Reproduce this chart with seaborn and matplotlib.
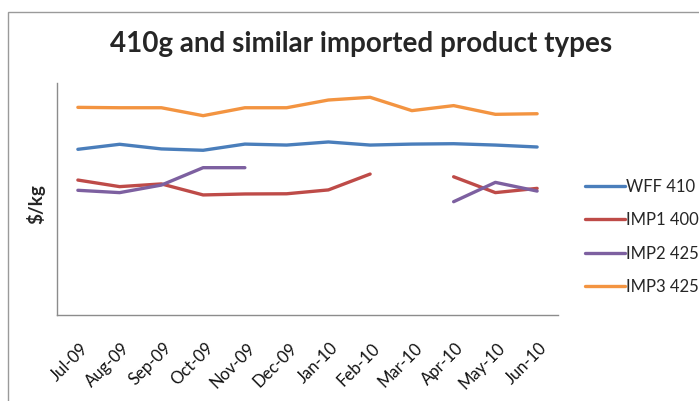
import numpy as np
import pandas as pd
import matplotlib
matplotlib.use("Agg")
import matplotlib.pyplot as plt
import matplotlib.transforms as mtransforms
import seaborn as sns

# Monthly price per kg for each product
months = ["Jul-09", "Aug-09", "Sep-09", "Oct-09", "Nov-09", "Dec-09",
          "Jan-10", "Feb-10", "Mar-10", "Apr-10", "May-10", "Jun-10"]
wff_410 = [8.57, 8.83, 8.59, 8.52, 8.84, 8.79, 8.95, 8.79, 8.84, 8.86, 8.79, 8.69]
imp1_400 = [6.98, 6.64, 6.78, 6.21, 6.26, 6.27, 6.47, 7.29, np.nan, 7.15, 6.33, 6.55]
imp2_425 = [6.45, 6.33, 6.72, 7.62, 7.62, np.nan, np.nan, np.nan, np.nan, 5.86, 6.86, 6.41]
imp3_425 = [10.74, 10.72, 10.72, 10.31, 10.72, 10.72, 11.12, 11.26, 10.57, 10.83, 10.38, 10.41]

series_names = ["WFF 410", "IMP1 400", "IMP2 425", "IMP3 425"]
series_values = [wff_410, imp1_400, imp2_425, imp3_425]
colors = ["#4A7EBB", "#BE4B48", "#7D60A0", "#F39441"]

# Long-form table; missing months split a series into separate segments
rows = []
for name, vals in zip(series_names, series_values):
    seg = 0
    prev_missing = False
    for i, v in enumerate(vals):
        if np.isnan(v):
            prev_missing = True
            continue
        if prev_missing:
            seg += 1
            prev_missing = False
        rows.append({"pos": i, "price": v, "series": name, "segment": f"{name}-{seg}"})
df = pd.DataFrame(rows)

sns.set_theme(style="white")
plt.rcParams["font.family"] = ["Lato", "DejaVu Sans"]

fig = plt.figure(figsize=(6.99, 4.01), dpi=100)
ax = fig.add_axes([57 / 699, 1 - 315 / 401, (558 - 57) / 699, (315 - 83) / 401])

sns.lineplot(data=df, x="pos", y="price", hue="series", units="segment",
             estimator=None, hue_order=series_names,
             palette=dict(zip(series_names, colors)), linewidth=2.4,
             ax=ax, legend=True)

ax.set_xlim(-0.5, len(months) - 0.5)
ax.set_ylim(0, 12)
ax.set_xticks(range(len(months)))
ax.set_xticklabels(months, rotation=45, ha="right", rotation_mode="anchor",
                   fontsize=12, color="#111111")
ax.tick_params(axis="x", length=0, pad=18)
shift = mtransforms.ScaledTranslation(2 / 100, 0, fig.dpi_scale_trans)
for lbl in ax.get_xticklabels():
    lbl.set_transform(lbl.get_transform() + shift)
ax.set_yticks([])
ax.set_xlabel("")
ax.set_ylabel("$/kg", fontsize=13.5, fontweight="bold", labelpad=4)
ax.yaxis.set_label_coords(-12 / 501, (315 - 204) / 232)

for side in ["top", "right"]:
    ax.spines[side].set_visible(False)
for side in ["left", "bottom"]:
    ax.spines[side].set_color("#8c8c8c")
    ax.spines[side].set_linewidth(1.0)

leg = ax.legend(loc="upper left", bbox_to_anchor=(578 / 699, 1 - 172 / 401),
                bbox_transform=fig.transFigure, frameon=False, fontsize=12,
                handlelength=2.4, handletextpad=0.1, labelspacing=1.05,
                borderaxespad=0)
for line in leg.get_lines():
    line.set_linewidth(2.4)

fig.text(361 / 699, 1 - 44 / 401, "410g and similar imported product types",
         ha="center", va="center", fontsize=20, fontweight="bold")

# Outer chart frame
fig.add_artist(plt.Rectangle((8 / 699, -0.05), 1.1, 1 - 12 / 401 + 0.05,
                             transform=fig.transFigure, fill=False,
                             edgecolor="#9a9a9a", linewidth=1.0))

fig.savefig("out.png", dpi=100)
